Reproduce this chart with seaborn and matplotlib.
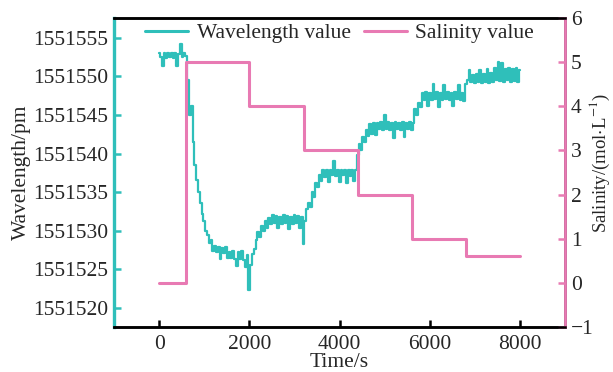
import numpy as np
import pandas as pd
import matplotlib
matplotlib.use("Agg")
import matplotlib.pyplot as plt
import seaborn as sns

# ---------------- data ----------------
WL_BASE = 1551500.0
SAMPLE_STEP_S = 40  # wavelength sampled every 40 s from 0 to 8000 s
wavelength_offset_pm = [
    53.0, 52.5, 51.3, 53.0, 52.4, 53.1, 52.5, 53.0, 52.4, 53.1,
    51.4, 52.9, 54.2, 52.5, 53.0, 52.6, 49.5, 45.0, 46.2, 41.5,
    38.5, 36.6, 35.0, 33.6, 32.2, 31.2, 30.0, 29.4, 28.4, 28.8,
    27.4, 28.0, 27.2, 27.9, 26.3, 27.8, 27.1, 27.9, 26.4, 27.2,
    26.4, 27.3, 26.3, 25.4, 27.2, 26.3, 27.4, 26.2, 25.3, 26.8,
    22.3, 25.6, 27.0, 27.6, 28.8, 29.8, 29.2, 30.6, 30.0, 31.3,
    30.4, 31.6, 30.8, 32.0, 31.0, 31.9, 30.3, 31.8, 30.9, 32.0,
    31.0, 31.9, 30.2, 31.8, 30.9, 32.0, 31.0, 31.9, 30.4, 31.8,
    28.3, 31.2, 32.8, 33.6, 33.0, 35.0, 34.4, 36.2, 35.6, 37.2,
    36.4, 37.8, 37.0, 37.9, 36.3, 37.8, 37.2, 39.0, 37.1, 37.9,
    36.3, 37.8, 37.2, 37.9, 36.2, 37.8, 37.1, 37.9, 36.4, 37.8,
    39.8, 41.2, 40.4, 42.2, 41.5, 43.0, 42.3, 43.8, 42.5, 43.9,
    42.4, 44.0, 43.2, 44.1, 43.1, 45.0, 43.2, 44.1, 43.1, 44.0,
    42.0, 44.1, 43.2, 44.0, 43.1, 44.1, 42.2, 44.0, 43.2, 44.1,
    43.1, 44.0, 45.8, 45.0, 46.6, 46.0, 47.8, 47.0, 48.0, 46.2,
    47.9, 47.0, 49.0, 47.1, 48.0, 46.1, 47.9, 47.0, 48.9, 47.1,
    48.0, 47.0, 47.9, 46.2, 48.0, 47.1, 48.9, 47.0, 47.9, 46.8,
    49.0, 49.5, 50.9, 49.3, 50.2, 49.2, 50.3, 49.3, 50.9, 49.2,
    50.3, 49.3, 51.0, 49.2, 50.4, 49.3, 51.1, 49.5, 51.9, 49.4,
    51.8, 49.3, 51.0, 49.5, 51.1, 49.3, 51.0, 49.4, 51.1, 49.3,
    50.8,
]
wavelength_time_s = np.arange(len(wavelength_offset_pm)) * SAMPLE_STEP_S

salinity_time_s = [0, 600, 2000, 3200, 4400, 5600, 6800, 8000]
salinity_values = [0, 5, 4, 3, 2, 1, 0.6, 0.6]

x_ticks = [0, 2000, 4000, 6000, 8000]
wl_ticks = [1551520, 1551525, 1551530, 1551535, 1551540, 1551545, 1551550, 1551555]
sal_ticks = [-1, 0, 1, 2, 3, 4, 5, 6]

TEAL = "#2fbfba"
PINK = "#e87ab3"

# ---------------- style ----------------
sns.set_style("ticks")
plt.rcParams["font.family"] = ["Liberation Serif", "DejaVu Serif"]
plt.rcParams["mathtext.fontset"] = "stix"
plt.rcParams["font.size"] = 15.5
plt.rcParams["axes.unicode_minus"] = True

FS = 15.5

wl_df = pd.DataFrame({"t": wavelength_time_s,
                      "wl": WL_BASE + np.array(wavelength_offset_pm)})
sal_df = pd.DataFrame({"t": salinity_time_s, "s": salinity_values})

fig = plt.figure(figsize=(6.13, 3.72), dpi=100)
ax = fig.add_axes([0.186, 0.121, 0.736, 0.831])
ax2 = ax.twinx()

sns.lineplot(data=wl_df, x="t", y="wl", ax=ax, color=TEAL, lw=1.6,
             drawstyle="steps-mid", label="Wavelength value", legend=False)
sns.lineplot(data=sal_df, x="t", y="s", ax=ax2, color=PINK, lw=2.2,
             drawstyle="steps-post", label="Salinity value", legend=False)

ax.set_xlim(-1000, 9000)
ax.set_ylim(1551517.5, 1551557.6)
ax2.set_ylim(-1, 6)
ax.set_xticks(x_ticks)
ax.set_yticks(wl_ticks)
ax2.set_yticks(sal_ticks)
ax.yaxis.set_major_formatter(matplotlib.ticker.FuncFormatter(lambda v, p: f"{v:.0f}"))

ax.set_xlabel("Time/s", fontsize=FS, labelpad=-1)
ax.set_ylabel("Wavelength/pm", fontsize=FS, labelpad=2)
ax2.set_ylabel(r"Salinity/(mol$\cdot$L$^{-1}$)", fontsize=13.5)
ax2.yaxis.set_label_coords(1.05, 0.53)

for a in (ax, ax2):
    for s in a.spines.values():
        s.set_linewidth(1.8)
        s.set_color("black")
ax.spines["left"].set_color(TEAL)
ax.spines["left"].set_linewidth(2.4)
ax2.spines["right"].set_color(PINK)
ax2.spines["right"].set_linewidth(2.0)
ax2.spines["left"].set_visible(False)

ax.tick_params(axis="y", direction="in", color=TEAL, width=1.8, length=5, labelsize=FS, pad=4)
ax.tick_params(axis="x", direction="in", color="black", width=1.8, length=5, labelsize=FS, pad=6)
ax2.tick_params(axis="y", direction="in", color=PINK, width=1.8, length=5, labelsize=FS, pad=4)

h1, l1 = ax.get_legend_handles_labels()
h2, l2 = ax2.get_legend_handles_labels()
leg = ax2.legend(h1 + h2, l1 + l2, loc="upper center", ncol=2, frameon=False,
                 fontsize=FS, handlelength=2.0, columnspacing=0.6, handletextpad=0.4,
                 borderaxespad=0.0, bbox_to_anchor=(0.5, 1.01))
for line in leg.get_lines():
    line.set_linewidth(2.2)
    line.set_drawstyle("default")

fig.savefig("out.png", dpi=100)
